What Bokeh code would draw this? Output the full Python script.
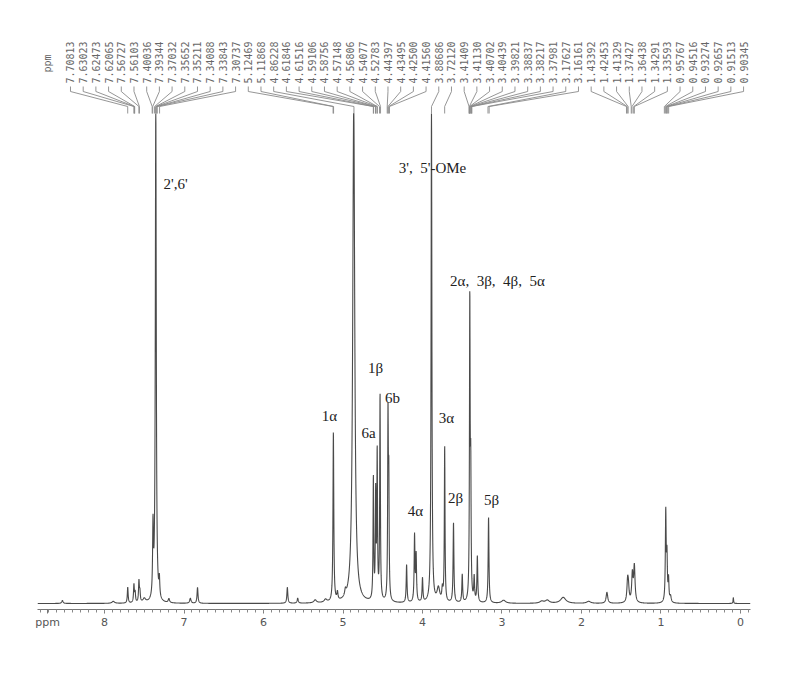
import numpy as np
from bokeh.plotting import figure
from bokeh.models import Range1d, FixedTicker
from bokeh.core.properties import value
from bokeh.embed import file_html
from bokeh.resources import INLINE

# ---------------- data ----------------
# peak list: chemical shift (ppm), height (arbitrary units), half width (ppm)
peak_ppm = [8.53, 7.89, 7.708, 7.630, 7.615, 7.567, 7.555, 7.50, 7.390, 7.355,
            7.310, 7.19, 6.92, 6.83, 5.70, 5.57, 5.35, 5.22, 5.121, 5.07,
            4.97, 4.865, 4.618, 4.589, 4.570, 4.534, 4.434, 4.424, 4.20, 4.10,
            4.08, 4.00, 3.887, 3.80, 3.75, 3.721, 3.61, 3.50, 3.405, 3.393,
            3.35, 3.31, 3.169, 2.98, 2.50, 2.43, 2.23, 1.91, 1.68, 1.42,
            1.41, 1.36, 1.335, 0.94, 0.925, 0.905, 0.88, 0.09]
peak_height = [3, 2, 16, 18, 10, 21, 10, 4, 70, 500,
               18, 4, 5, 16, 16, 5, 3, 3, 170, 8,
               6, 500, 122, 104, 146, 206, 180, 110, 38, 66,
               46, 24, 500, 14, 12, 156, 80, 28, 298, 118,
               24, 46, 86, 3, 2, 3, 6, 2, 11, 20,
               13, 28, 36, 90, 44, 22, 6, 6]
peak_width = [0.01, 0.02, 0.006, 0.006, 0.006, 0.006, 0.006, 0.02, 0.006, 0.007,
              0.006, 0.01, 0.01, 0.007, 0.007, 0.008, 0.02, 0.02, 0.006, 0.008,
              0.01, 0.015, 0.005, 0.005, 0.005, 0.005, 0.005, 0.005, 0.006, 0.006,
              0.006, 0.006, 0.006, 0.02, 0.008, 0.005, 0.006, 0.006, 0.005, 0.005,
              0.006, 0.006, 0.006, 0.03, 0.03, 0.03, 0.04, 0.03, 0.012, 0.01,
              0.01, 0.01, 0.01, 0.006, 0.006, 0.006, 0.01, 0.004]

# printed peak-pick list at the top
pick_values = ["7.70813", "7.63023", "7.62473", "7.62065", "7.56727", "7.56103",
               "7.40036", "7.39344", "7.37032", "7.35652", "7.35211", "7.34088",
               "7.33843", "7.30737",
               "5.12469", "5.11868", "4.86228", "4.61846", "4.61516", "4.59106",
               "4.58756", "4.57148", "4.56806", "4.54077", "4.52783", "4.44397",
               "4.43495", "4.42500", "4.41560",
               "3.88686", "3.72120", "3.41409", "3.41130", "3.40702", "3.40439",
               "3.39821", "3.38837", "3.38217", "3.37981", "3.17627", "3.16161",
               "1.43392", "1.42453", "1.41329", "1.37427", "1.36438", "1.34291",
               "1.33593", "0.95767", "0.94516", "0.93274", "0.92657", "0.91513",
               "0.90345"]

# assignments
assign_text = ["2',6'", "3',\u20025'-OMe",
               "2\u03b1,\u20023\u03b2,\u20024\u03b2,\u20025\u03b1",
               "1\u03b2", "6b", "1\u03b1", "6a", "3\u03b1", "4\u03b1", "2\u03b2", "5\u03b2"]

axis_ticks = [8, 7, 6, 5, 4, 3, 2, 1, 0]
axis_unit = "ppm"

# ---------------- layout ----------------
assign_x = [7.107, 3.874, 3.057, 4.591, 4.377, 5.170, 4.679, 3.698, 4.088, 3.585, 3.132]
assign_y = [420, 436, 323, 236, 206, 188, 171, 186, 93, 106, 104]

X_START, X_END = 8.843, -0.126
Y_START, Y_END = -6, 595
UNIT_POS = 8.717
TOP = 490

# ---------------- spectrum trace ----------------
x = np.arange(X_START, X_END, -0.0015)
y = np.zeros_like(x)
for c, h, w in zip(peak_ppm, peak_height, peak_width):
    y += h * w * w / ((x - c) ** 2 + w * w)
y = np.minimum(y, TOP)

p = figure(width=784, height=663, x_range=Range1d(X_START, X_END),
           y_range=Range1d(Y_START, Y_END), output_backend="svg",
           toolbar_location=None, y_axis_location=None,
           min_border_left=37, min_border_right=34, min_border_top=8,
           min_border_bottom=54)
p.outline_line_color = None
p.grid.visible = False
p.background_fill_color = "white"

p.line(x, y, line_color="#4a4a4a", line_width=1.1)

# ---------------- peak pick labels and leaders ----------------
n = len(pick_values)
pos0 = 8.428
step = -0.15975
lab_x = [pos0 + i * step for i in range(n)]
vals = [float(v) for v in pick_values]
xs = [[lx, lx, v, v] for lx, v in zip(lab_x, vals)]
ys = [[TOP + 27, TOP + 22, TOP + 7, TOP] for _ in range(n)]
p.multi_line(xs, ys, line_color="#8a8a8a", line_width=0.9)
p.text(x=lab_x, y=[TOP + 30] * n, text=pick_values, angle=np.pi / 2,
       text_align="left", text_baseline="middle",
       text_font=value("DejaVu Sans Mono"), text_font_size="10px",
       text_color="#666666")
p.text(x=[UNIT_POS], y=[TOP + 41], text=[axis_unit], angle=np.pi / 2,
       text_align="left", text_baseline="middle",
       text_font=value("DejaVu Sans Mono"), text_font_size="10px",
       text_color="#666666")

# ---------------- assignments ----------------
p.text(x=assign_x, y=assign_y, text=assign_text, text_align="center",
       text_baseline="middle", text_font=value("Liberation Serif"),
       text_font_size="15px", text_color="#222222")

# ---------------- axis ----------------
ax = p.xaxis[0]
minor = [round(-0.1 + 0.1 * k, 2) for k in range(90)]
ax.ticker = FixedTicker(ticks=[UNIT_POS] + axis_ticks, minor_ticks=minor)
ax.major_label_overrides = {UNIT_POS: axis_unit}
ax.axis_line_color = "#777777"
ax.major_tick_line_color = "#777777"
ax.minor_tick_line_color = "#888888"
ax.major_tick_in = 0
ax.major_tick_out = 4
ax.minor_tick_in = 0
ax.minor_tick_out = 3
ax.major_label_standoff = 2
ax.major_label_text_font = "DejaVu Sans"
ax.major_label_text_font_size = "11px"
ax.major_label_text_color = "#555555"

open("out.html", "w").write(file_html(p, INLINE))
